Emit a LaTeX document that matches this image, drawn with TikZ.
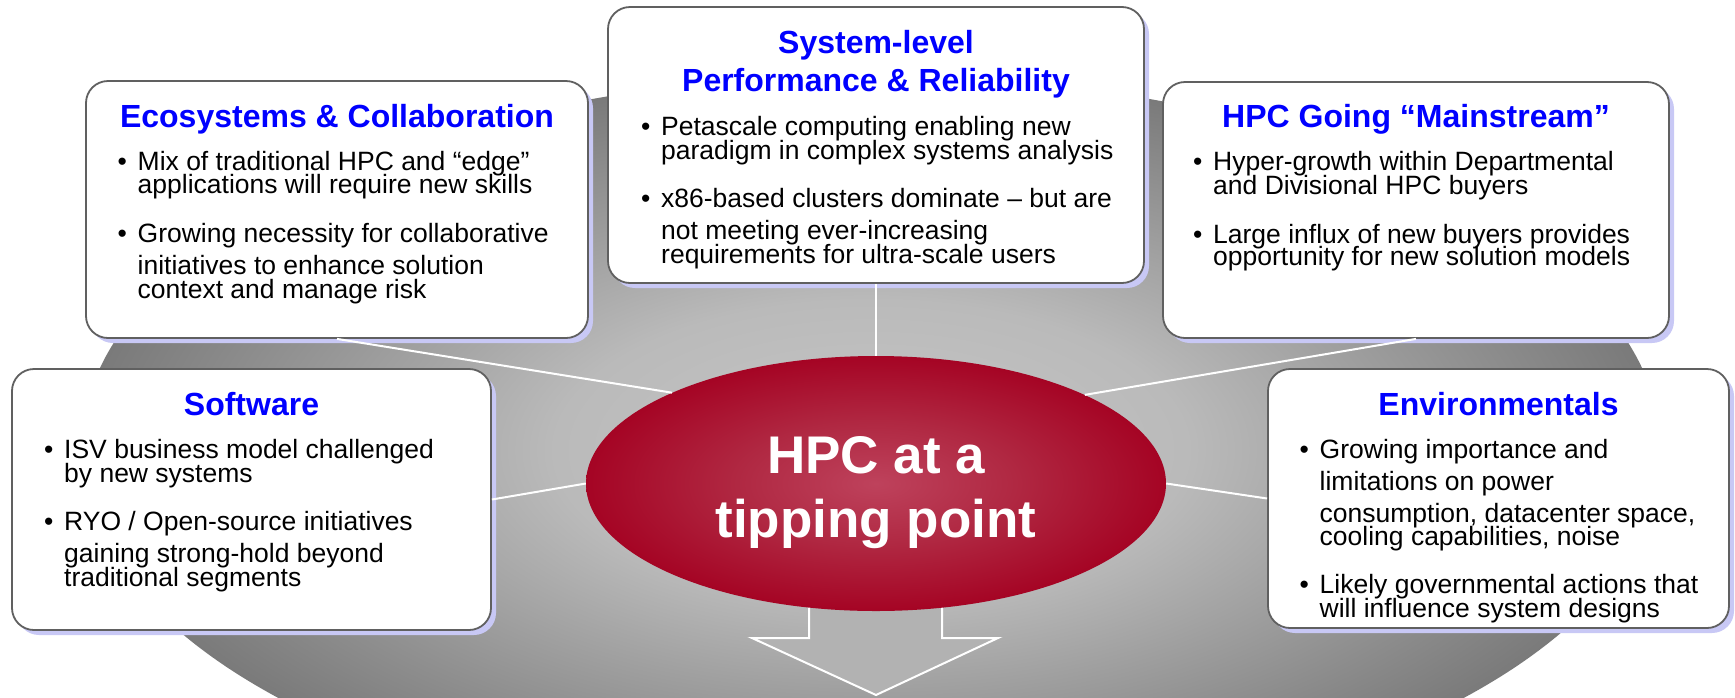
\documentclass[tikz,border=0pt]{standalone}
\usepackage{fontspec}
\setmainfont{Liberation Sans}[Ligatures={TeX,NoCommon}]
\usetikzlibrary{shapes.geometric,shadows}

\definecolor{titleblue}{RGB}{0,0,255}
\definecolor{boxline}{RGB}{96,96,96}
\definecolor{boxshadow}{RGB}{200,200,245}
\definecolor{greyA}{RGB}{198,198,198}
\definecolor{greyB}{RGB}{186,186,186}
\definecolor{greyC}{RGB}{160,160,160}
\definecolor{greyD}{RGB}{122,122,122}
\definecolor{redA}{RGB}{190,66,92}
\definecolor{redB}{RGB}{176,40,66}
\definecolor{redC}{RGB}{165,4,36}
\definecolor{arrowfill}{RGB}{178,178,178}

% soft grey disc behind everything, lighter towards the middle
\pgfdeclareradialshading{greyglow}{\pgfpoint{0bp}{0bp}}{color(0bp)=(greyA); color(10bp)=(greyB); color(16bp)=(greyC); color(25bp)=(greyD); color(50bp)=(greyD)}
% glowing red hub
\pgfdeclareradialshading{redglow}{\pgfpoint{0bp}{0bp}}{color(0bp)=(redA); color(12bp)=(redB); color(25bp)=(redC); color(50bp)=(redC)}

% bullet hung to the left of the text start
\newcommand\bul{\llap{\makebox[20pt][l]{•}}}

\begin{document}
\begin{tikzpicture}[x=1pt,y=-1pt,
  infobox/.style={draw=boxline, line width=1.8pt, fill=white, rounded corners=22pt,
    inner sep=0pt, drop shadow={shadow xshift=5pt, shadow yshift=-5pt, fill=boxshadow, opacity=1}},
  titletext/.style={text=titleblue, font=\fontsize{32}{38}\selectfont\bfseries, anchor=base, inner sep=0pt},
  bodytext/.style={font=\fontsize{26.5}{24}\selectfont, anchor=base west, inner sep=0pt},
  hubtext/.style={text=white, font=\fontsize{53}{64}\selectfont\bfseries, anchor=base, inner sep=0pt},
  link/.style={draw=white, line width=2pt}]

\useasboundingbox (0,0) rectangle (1735,697);
\fill[white] (0,0) rectangle (1735,697);
\clip (0,0) rectangle (1735,697);

% background disc
\shade[shading=greyglow] (871,450) ellipse [x radius=790pt, y radius=375pt];

% outlined arrow pointing down out of the hub
\filldraw[fill=arrowfill, draw=white, line width=2pt, line join=miter]
  (809,600) -- (809,638) -- (752,638) -- (876,695) -- (998,638) -- (942,638) -- (942,600);

% hub
\node[ellipse, shade, shading=redglow, minimum width=580pt, minimum height=255pt, inner sep=0pt] (hub) at (876,483.5) {};

% boxes
\node[infobox, minimum width=502pt, minimum height=257pt] (eco) at (337,209.5) {};
\node[infobox, minimum width=536pt, minimum height=276pt] (sys) at (876,145) {};
\node[infobox, minimum width=506pt, minimum height=256pt] (main) at (1416,210) {};
\node[infobox, minimum width=479pt, minimum height=261pt] (soft) at (251.5,499.5) {};
\node[infobox, minimum width=461pt, minimum height=259pt] (env) at (1498.5,498.5) {};

% spokes from the boxes to the hub
\draw[link] (eco.south) -- (hub.156.2);
\draw[link] (sys.south) -- (hub.north);
\draw[link] (main.south) -- (hub.23.8);
\draw[link] (soft.east) -- (hub.west);
\draw[link] (env.west) -- (hub.east);

% hub label
\node[hubtext] (hub-1) at (876,473) {HPC at a};
\node[hubtext] (hub-2) at (876,537) {tipping point};

% Ecosystems & Collaboration
\node[titletext] (eco-t) at (337,127) {Ecosystems \& Collaboration};
\node[bodytext] (eco-1) at (137.5,170) {\bul Mix of traditional HPC and “edge”};
\node[bodytext] (eco-2) at (137.5,193) {applications will require new skills};
\node[bodytext] (eco-3) at (137.5,242) {\bul Growing necessity for collaborative};
\node[bodytext] (eco-4) at (137.5,274) {initiatives to enhance solution};
\node[bodytext] (eco-5) at (137.5,298) {context and manage risk};

% System-level Performance & Reliability
\node[titletext] (sys-t1) at (876,53) {System-level};
\node[titletext] (sys-t2) at (876,91) {Performance \& Reliability};
\node[bodytext] (sys-1) at (661,135) {\bul Petascale computing enabling new};
\node[bodytext] (sys-2) at (661,159) {paradigm in complex systems analysis};
\node[bodytext] (sys-3) at (661,207) {\bul x86-based clusters dominate – but are};
\node[bodytext] (sys-4) at (661,239) {not meeting ever-increasing};
\node[bodytext] (sys-5) at (661,263) {requirements for ultra-scale users};

% HPC Going "Mainstream"
\node[titletext] (main-t) at (1416,127) {HPC Going “Mainstream”};
\node[bodytext] (main-1) at (1213,170) {\bul Hyper-growth within Departmental};
\node[bodytext] (main-2) at (1213,194) {and Divisional HPC buyers};
\node[bodytext] (main-3) at (1213,243) {\bul Large influx of new buyers provides};
\node[bodytext] (main-4) at (1213,265) {opportunity for new solution models};

% Software
\node[titletext] (soft-t) at (251.5,415) {Software};
\node[bodytext] (soft-1) at (64,458) {\bul ISV business model challenged};
\node[bodytext] (soft-2) at (64,482) {by new systems};
\node[bodytext] (soft-3) at (64,530) {\bul RYO / Open-source initiatives};
\node[bodytext] (soft-4) at (64,562) {gaining strong-hold beyond};
\node[bodytext] (soft-5) at (64,586) {traditional segments};

% Environmentals
\node[titletext] (env-t) at (1498.5,415) {Environmentals};
\node[bodytext] (env-1) at (1319.5,458) {\bul Growing importance and};
\node[bodytext] (env-2) at (1319.5,490) {limitations on power};
\node[bodytext] (env-3) at (1319.5,522) {consumption, datacenter space,};
\node[bodytext] (env-4) at (1319.5,545) {cooling capabilities, noise};
\node[bodytext] (env-5) at (1319.5,593) {\bul Likely governmental actions that};
\node[bodytext] (env-6) at (1319.5,617) {will influence system designs};

\end{tikzpicture}
\end{document}
